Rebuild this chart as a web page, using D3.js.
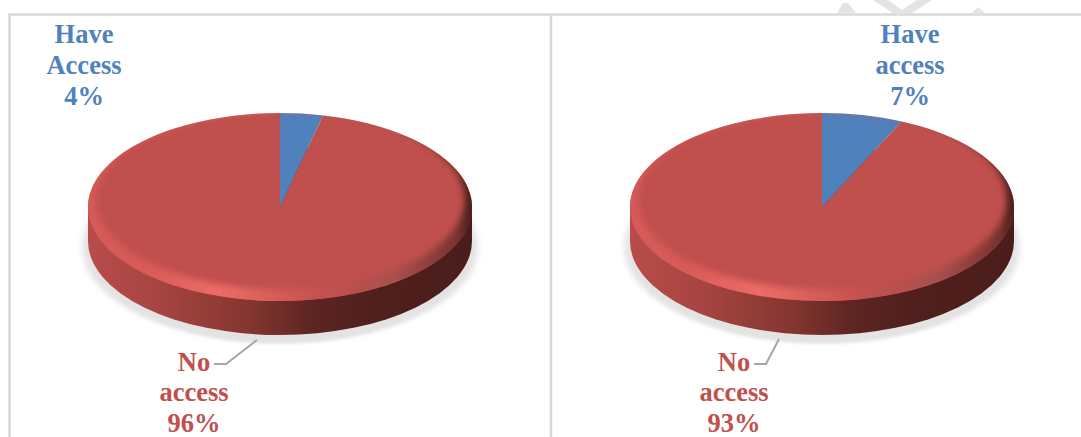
<!DOCTYPE html>
<html>
<head>
<meta charset="utf-8">
<script src="https://cdn.jsdelivr.net/npm/d3@7"></script>
<style>
  html, body { margin: 0; padding: 0; background: #fff; overflow: hidden; }
  text { font-family: "Liberation Serif", serif; font-weight: bold; font-size: 26.5px; text-anchor: middle; }
</style>
</head>
<body>
<div id="chart"></div>
<script>
const categories = ["Have access", "No access"];
const leftValues = [3.6, 96.4];
const rightValues = [6.8, 93.2];
const leftLabels = [["Have", "Access"], ["No", "access"]];
const rightLabels = [["Have", "access"], ["No", "access"]];
const colors = ["#4f81bd", "#c0504d"];

const width = 1081, height = 437;
const svg = d3.select("#chart").append("svg")
    .attr("width", width)
    .attr("height", height)
    .style("display", "block");

const defs = svg.append("defs");

// Blurs for the drop shadow and the soft bevel edge
defs.append("filter").attr("id", "shadowBlur")
    .attr("x", "-10%").attr("y", "-10%").attr("width", "120%").attr("height", "120%")
    .append("feGaussianBlur").attr("stdDeviation", 3);
defs.append("filter").attr("id", "rimBlur")
    .attr("x", "-10%").attr("y", "-10%").attr("width", "120%").attr("height", "120%")
    .append("feGaussianBlur").attr("stdDeviation", 3);

// Watermark pieces poking above the frame
const watermark = [
    [[837, 13], [843, 3], [848, 3], [856, 13]],
    [[873, 0], [893, 13], [912, 13], [932, 0], [917, 0], [902, 10], [888, 0]],
    [[972, 13], [978, 7], [985, 13]]
];
svg.selectAll("polygon.wm")
    .data(watermark)
    .enter().append("polygon")
    .attr("class", "wm")
    .attr("points", d => d.join(" "))
    .attr("fill", "#e4e4e4");

// Frame
const frame = [
    [[8, 14.5], [1081, 14.5]],
    [[9.5, 14], [9.5, 437]],
    [[551, 14], [551, 437]]
];
svg.selectAll("path.frame")
    .data(frame)
    .enter().append("path")
    .attr("class", "frame")
    .attr("d", d3.line())
    .attr("stroke", "#d9d9d9")
    .attr("stroke-width", 2.5)
    .attr("fill", "none");

const rx = 192, ry = 94, cy = 207, depth = 34;
const pie = d3.pie().sort(null).value(d => d);
const arc = d3.arc().innerRadius(0).outerRadius(rx);
const disc = d3.arc().innerRadius(0).outerRadius(rx).startAngle(0).endAngle(2 * Math.PI);
const squash = ry / rx;

// Gradient runs across the disc in its own local coordinates
function gradient(id, stops) {
    const g = defs.append("linearGradient").attr("id", id)
        .attr("gradientUnits", "userSpaceOnUse")
        .attr("x1", -rx).attr("x2", rx)
        .attr("y1", 0).attr("y2", 0);
    g.selectAll("stop").data(stops).enter().append("stop")
        .attr("offset", d => d[0])
        .attr("stop-color", d => d[1]);
}

gradient("sideFill", [
    [0, "#b84c49"], [0.2, "#a54441"], [0.42, "#84362f"],
    [0.58, "#5e2522"], [0.75, "#4f1f1d"], [1, "#4a1d1b"]
]);
gradient("rimFill", [
    [0, "#d65a57"], [0.14, "#d65a57"], [0.34, "#ee6b67"],
    [0.6, "#c4524f"], [0.8, "#a8504c"], [0.96, "#7a3330"], [1, "#4a1d1b"]
]);

function drawPie(id, cx, values, labels, labelX, leaders) {
    // Mask leaves only the bevel ring around the flat top
    const mask = defs.append("mask").attr("id", id + "Mask")
        .attr("maskUnits", "userSpaceOnUse")
        .attr("x", 0).attr("y", 0).attr("width", width).attr("height", height);
    mask.append("rect").attr("width", width).attr("height", height).attr("fill", "#fff");
    mask.append("ellipse")
        .attr("cx", cx).attr("cy", cy - 7)
        .attr("rx", rx - 8).attr("ry", ry - 5)
        .attr("fill", "#000")
        .attr("filter", "url(#rimBlur)");

    const g = svg.append("g");

    // Shadow under the disc
    g.append("path")
        .attr("d", disc())
        .attr("transform", `translate(${cx},${cy + depth + 6}) scale(1.03,${squash * 1.03})`)
        .attr("fill", "#e3e3e3")
        .attr("filter", "url(#shadowBlur)");

    // Side wall: bottom disc and a band up to the top face
    g.append("path")
        .attr("d", disc())
        .attr("transform", `translate(${cx},${cy + depth}) scale(1,${squash})`)
        .attr("fill", "url(#sideFill)");
    g.append("rect")
        .attr("transform", `translate(${cx},${cy})`)
        .attr("x", -rx).attr("y", 0)
        .attr("width", 2 * rx).attr("height", depth)
        .attr("fill", "url(#sideFill)");

    // Top face, one slice per value
    const top = g.append("g")
        .attr("transform", `translate(${cx},${cy}) scale(1,${squash})`);
    top.selectAll("path")
        .data(pie(values))
        .enter().append("path")
        .attr("d", arc)
        .attr("fill", (d, i) => colors[i]);

    // Bevel ring over the slices
    g.append("g")
        .attr("mask", `url(#${id}Mask)`)
        .append("path")
        .attr("d", disc())
        .attr("transform", `translate(${cx},${cy}) scale(1,${squash})`)
        .attr("fill", "url(#rimFill)");

    // Leader line of the big slice
    g.append("path")
        .attr("d", d3.line()(leaders))
        .attr("fill", "none")
        .attr("stroke", "#a6a6a6")
        .attr("stroke-width", 2);

    // Labels, two lines of name then the rounded percent
    const baselines = [[43, 74, 105], [371, 401, 432]];
    values.forEach((v, i) => {
        const lines = labels[i].concat(d3.format(".0f")(v) + "%");
        g.append("g").selectAll("text")
            .data(lines)
            .enter().append("text")
            .attr("x", labelX[i])
            .attr("y", (d, k) => baselines[i][k])
            .attr("fill", colors[i])
            .text(d => d);
    });
}

drawPie("left", 280, leftValues, leftLabels, [84, 194], [[214, 364], [226, 364], [257, 340]]);
drawPie("right", 822, rightValues, rightLabels, [910, 734], [[754, 364], [766, 364], [779, 339]]);
</script>
</body>
</html>
